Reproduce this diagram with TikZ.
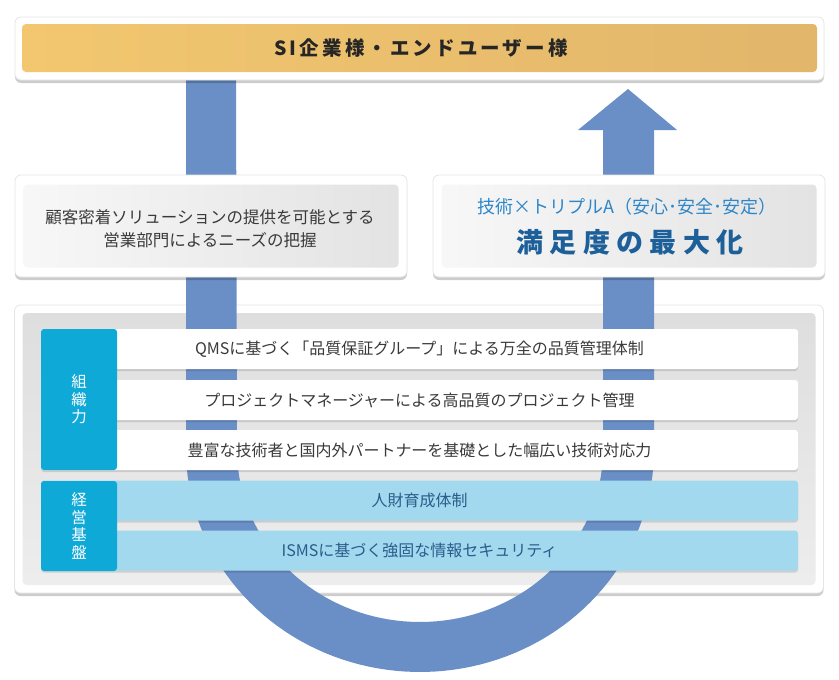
\documentclass[tikz,border=0pt]{standalone}
\usepackage{fontspec}
\setmainfont{Noto Sans CJK JP}
\usetikzlibrary{shadows}
\definecolor{arrowblue}{HTML}{6A8FC6}
\definecolor{labelcyan}{HTML}{0FA9D8}
\definecolor{rowblue}{HTML}{A3D9EF}
\definecolor{rowtext}{HTML}{2B5C8A}
\definecolor{greytext}{HTML}{3A3A3A}
\definecolor{goldL}{HTML}{F2C76F}
\definecolor{goldR}{HTML}{E2B66B}
\definecolor{techblue}{HTML}{2E86C8}
\definecolor{bigblue}{HTML}{1D5F99}
\tikzset{
  shadowed/.style={drop shadow={shadow xshift=0pt, shadow yshift=-3pt, fill=black, opacity=0.2}},
  frame/.style={draw=black!10, line width=0.8pt, fill=white, rounded corners=6pt, shadowed},
  sideinner/.style={draw=none, rounded corners=4pt, left color=black!3, right color=black!11},
  whiterow/.style={draw=none, fill=white, rounded corners=3pt, minimum width=757pt, minimum height=40pt,
     drop shadow={shadow xshift=0pt, shadow yshift=-2pt, fill=black, opacity=0.12}},
  bluerow/.style={whiterow, fill=rowblue},
  rowlabel/.style={draw=none, fill=labelcyan, rounded corners=3pt, minimum width=76pt, text=white,
     align=center, font=\fontsize{15.5}{17.5}\selectfont},
  rowtxt/.style={font=\fontsize{16}{20}\selectfont, text=greytext},
}
\begin{document}
\begin{tikzpicture}[x=1pt,y=-1pt]
\useasboundingbox (0,0) rectangle (839,680);
% main base box
\node[frame, minimum width=809pt, minimum height=288pt] (base) at (419,449) {};
\node[draw=none, rounded corners=4pt, top color=black!13, bottom color=black!7,
      minimum width=793pt, minimum height=272pt] (baseinner) at (419,449) {};
% U arrow
\fill[arrowblue] (186,78) -- (186,450)
  -- plot[domain=180:0, samples=80] ({420+234*cos(\x)}, {450+222*sin(\x)})
  -- (654,130) -- (677,130) -- (628,89) -- (578,130) -- (603,130) -- (603,450)
  -- plot[domain=0:180, samples=80] ({420+183*cos(\x)}, {450+172*sin(\x)})
  -- (236,78) -- cycle;
% rows
\node[whiterow] (r1) at (419.5,349) {};
\node[rowtxt] (t1) at (r1) {QMSに基づく「品質保証グループ」による万全の品質管理体制};
\node[whiterow] (r2) at (419.5,400) {};
\node[rowtxt] (t2) at (r2) {プロジェクトマネージャーによる高品質のプロジェクト管理};
\node[whiterow] (r3) at (419.5,450) {};
\node[rowtxt] (t3) at (r3) {豊富な技術者と国内外パートナーを基礎とした幅広い技術対応力};
\node[bluerow] (r4) at (419.5,500.5) {};
\node[rowtxt, text=rowtext] (t4) at (r4) {人財育成体制};
\node[bluerow] (r5) at (419.5,550.5) {};
\node[rowtxt, text=rowtext] (t5) at (r5) {ISMSに基づく強固な情報セキュリティ};
\node[rowlabel, minimum height=141pt] (l1) at (79,399.5) {組\\織\\力};
\node[rowlabel, minimum height=90pt] (l2) at (79,526) {経\\営\\基\\盤};
% side boxes
\node[frame, minimum width=392pt, minimum height=102pt] (left) at (211,226) {};
\node[sideinner, minimum width=375pt, minimum height=83pt] (lefti) at (211,226) {};
\node[font=\fontsize{16.5}{23}\selectfont, text=greytext, align=center] (lt) at (210,229)
  {顧客密着ソリューションの提供を可能とする\\営業部門によるニーズの把握};
\node[frame, minimum width=392pt, minimum height=102pt] (right) at (629,226) {};
\node[sideinner, minimum width=375pt, minimum height=83pt] (righti) at (629,226) {};
\node[font=\fontsize{18}{20}\selectfont, text=techblue] (rt1) at (627,207)
  {技術×トリプルA（安心･安全･安定）};
\node[font=\bfseries\fontsize{27}{30}\selectfont\addfontfeature{LetterSpace=24}, text=bigblue] (rt2) at (630,242)
  {満足度の最大化};
% top box
\node[frame, minimum width=809pt, minimum height=63pt] (top) at (419.5,48.5) {};
\node[draw=none, rounded corners=4pt, left color=goldL, right color=goldR,
      minimum width=795pt, minimum height=48pt] (topi) at (419.5,48) {};
\node[font=\bfseries\fontsize{19.5}{22}\selectfont\addfontfeature{LetterSpace=16}, text=black!85] (tt) at (421,48)
  {SI企業様・エンドユーザー様};
\end{tikzpicture}
\end{document}
